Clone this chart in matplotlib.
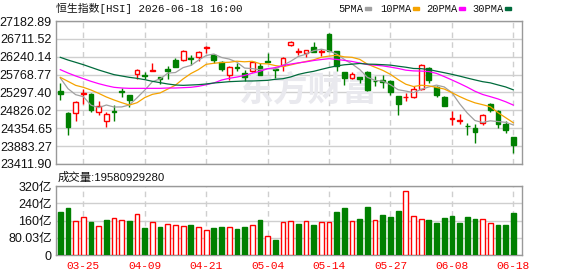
import numpy as np
import pandas as pd
import matplotlib
matplotlib.use("Agg")
import matplotlib.pyplot as plt
from matplotlib.patches import Rectangle

# 恒生指数日K，最后60个交易日
open_ = [25346, 24757, 24748, 25258, 25258, 24774, 24537, 24818, 25346, 25223,
         25785, 25759, 25873, 25697, 25908, 26154, 26146, 26207, 26225, 26471,
         26278, 26093, 25750, 25970, 25812, 25856, 25987, 26137, 25926, 26031,
         26541, 26374, 26330, 26497, 26374, 26849, 26383, 25838, 25680, 25697,
         25838, 25609, 25627, 25609, 25196, 25170, 25170, 25398, 25935, 25434,
         25179, 24599, 24546, 24423, 24361, 24484, 24994, 24801, 24467, 24124]
high = [25548, 24774, 25065, 25398, 25275, 25065, 24783, 24959, 25416, 25240,
        25917, 25838, 26075, 25715, 26005, 26207, 26418, 26295, 26401, 26515,
        26313, 26119, 25987, 26075, 25900, 26119, 26075, 26339, 25944, 26225,
        26647, 26471, 26409, 26620, 26453, 26866, 26383, 25838, 25838, 25715,
        25856, 25741, 25750, 25636, 25196, 25284, 25460, 26049, 25961, 25460,
        25196, 24801, 24730, 24493, 24467, 24739, 25020, 24827, 24537, 24124]
low = [25108, 24185, 24537, 24994, 24783, 24713, 24396, 24555, 25179, 24906,
       25662, 25662, 25856, 25530, 25653, 25961, 26137, 26031, 26119, 26339,
       26075, 25856, 25636, 25873, 25592, 25829, 25750, 26110, 25680, 25873,
       26524, 26295, 26225, 26366, 26251, 26383, 25856, 25504, 25662, 25548,
       25346, 25460, 25416, 25240, 24713, 25065, 25152, 25372, 25548, 25188,
       24933, 24449, 24467, 24185, 23966, 24432, 24783, 24361, 24229, 23702]
close = [25258, 24379, 25038, 25293, 24845, 24933, 24730, 24774, 25302, 25108,
         25882, 25733, 25891, 25662, 25873, 25961, 26383, 26172, 26357, 26489,
         26163, 25926, 25961, 25944, 25715, 26093, 25768, 26110, 25900, 26198,
         26629, 26401, 26409, 26366, 26392, 26401, 25987, 25680, 25785, 25662,
         25363, 25592, 25583, 25311, 25003, 25188, 25381, 26014, 25636, 25240,
         24950, 24625, 24564, 24405, 24247, 24695, 24845, 24467, 24300, 23904]

# 成交量（亿）
vol = [199, 218, 156, 175, 153, 133, 161, 170, 161, 158,
       190, 125, 152, 130, 144, 138, 135, 139, 128, 116,
       125, 130, 128, 121, 130, 138, 162, 87, 70, 152,
       156, 144, 156, 139, 152, 152, 199, 218, 156, 167,
       223, 161, 186, 176, 204, 295, 179, 165, 162, 148,
       172, 181, 148, 176, 167, 165, 147, 139, 139, 195]

# 均线开头几天需要更早的数据，这里直接从图上读
ma5_head = [25680, 25398, 25240, 25188]
ma10_head = [25697, 25592, 25486, 25434, 25363, 25275, 25179, 25100, 25029]
ma20_head = [25900, 25812, 25733, 25662, 25592, 25530, 25478, 25434, 25416, 25407,
             25407, 25407, 25407, 25407, 25416, 25416, 25425, 25434, 25460]
ma30_head = [26225, 26154, 26093, 26031, 25961, 25891, 25829, 25768, 25733, 25697,
             25671, 25636, 25592, 25557, 25522, 25495, 25486, 25495, 25504, 25522,
             25548, 25565, 25583, 25592, 25601, 25601, 25609, 25618, 25645]

tick_pos = [3, 11, 19, 27, 35, 43, 51, 59]
tick_dates = ['03-25', '04-09', '04-21', '05-04', '05-14', '05-27', '06-08', '06-18']

price_labels = ['23411.90', '23883.27', '24354.65', '24826.02', '25297.40',
                '25768.77', '26240.14', '26711.52', '27182.89']
vol_labels = ['0', '80.03亿', '160亿', '240亿', '320亿']
vol_ticks = [0, 80, 160, 240, 320]

title = '恒生指数[HSI] 2026-06-18 16:00'
vol_title = '成交量:19580929280'

RED = '#ff0000'
GREEN = '#008000'
GRID = '#cfcfcf'
ma_names = ['5PMA', '10PMA', '20PMA', '30PMA']
ma_colors = ['#a0a0a0', '#f5a300', '#ff00ff', '#006b3c']

open_a = np.array(open_, float)
close_a = np.array(close, float)
x = np.arange(len(close))


def moving_avg(n, head):
    ma = pd.Series(close_a).rolling(n).mean().to_numpy()
    ma[:n - 1] = head
    return ma


mas = [moving_avg(5, ma5_head), moving_avg(10, ma10_head),
       moving_avg(20, ma20_head), moving_avg(30, ma30_head)]

W, H = 578, 276
fig = plt.figure(figsize=(W / 100, H / 100), dpi=100)


def fx(px):
    return px / W


def fy(py):
    return 1 - py / H


ax = fig.add_axes([fx(56), fy(164), 466 / W, 143 / H])
axv = fig.add_axes([fx(56), fy(255), 466 / W, 69 / H])

for a in (ax, axv):
    a.set_xlim(-0.56, 60.13)
    for s in a.spines.values():
        s.set_color('#999999')
        s.set_linewidth(1)
    a.set_xticks(tick_pos)
    a.grid(axis='y', color=GRID, lw=1, zorder=0)
    a.grid(axis='x', color=GRID, lw=1, ls=(0, (4, 3)), zorder=0)
    a.set_axisbelow(True)
    a.tick_params(length=0, pad=3, labelsize=9, labelcolor='#111111')
    for t in a.get_yticklabels():
        t.set_family(['Liberation Sans', 'Noto Sans CJK SC'])

# K线
ax.set_ylim(23411.90, 27182.89)
ax.set_yticks(np.linspace(23411.90, 27182.89, 9), price_labels,
              family='Liberation Sans', fontsize=9)
ax.set_xticklabels([])

up = close_a > open_a
cols = np.where(up, RED, GREEN)
ax.vlines(x, low, high, colors=cols, lw=1, zorder=3)
ax.bar(x, np.abs(close_a - open_a), bottom=np.minimum(open_a, close_a), width=0.62,
       facecolor=np.where(up, 'white', GREEN), edgecolor=cols, lw=1, zorder=4)

for ma, c in zip(mas, ma_colors):
    ax.plot(x, ma, color=c, lw=0.9, zorder=5)

ax.text(fx(308), fy(90), '东方财富', transform=fig.transFigure, ha='center', va='center',
        fontsize=25, fontweight='bold', color='#e9e9ee', family='Noto Sans CJK SC', zorder=1)

# 成交量
axv.set_ylim(0, 320)
axv.set_yticks(vol_ticks, vol_labels, family=['Liberation Sans', 'Noto Sans CJK SC'], fontsize=9)
axv.set_xticklabels(tick_dates, color=RED, family='Liberation Mono', fontsize=8)
axv.tick_params(axis='x', pad=4)
vol_up = np.r_[close_a[0] > open_a[0], close_a[1:] > close_a[:-1]]
vcols = np.where(vol_up, RED, GREEN)
axv.bar(x, vol, width=0.62, facecolor=np.where(vol_up, 'white', GREEN),
        edgecolor=vcols, lw=1, zorder=3)

# 标题和图例
fig.text(fx(56), fy(8), title, ha='left', va='center', fontsize=7.8,
         family=['Liberation Mono', 'Noto Sans CJK SC'], color='#111111')
fig.text(fx(58), fy(177), vol_title, ha='left', va='center', fontsize=8.2,
         family=['Liberation Sans', 'Noto Sans CJK SC'], color='#111111')

leg_x = [338, 380, 426, 472]
for name, c, lx in zip(ma_names, ma_colors, leg_x):
    t = fig.text(fx(lx), fy(8.5), name, ha='left', va='center', fontsize=7.5,
                 family='Liberation Mono', color='#111111')
    w = 6 * len(name)
    fig.add_artist(Rectangle((fx(lx + w + 3), fy(10)), 6 / W, 3 / H,
                             transform=fig.transFigure, color=c))

fig.savefig('out.png', dpi=100)
